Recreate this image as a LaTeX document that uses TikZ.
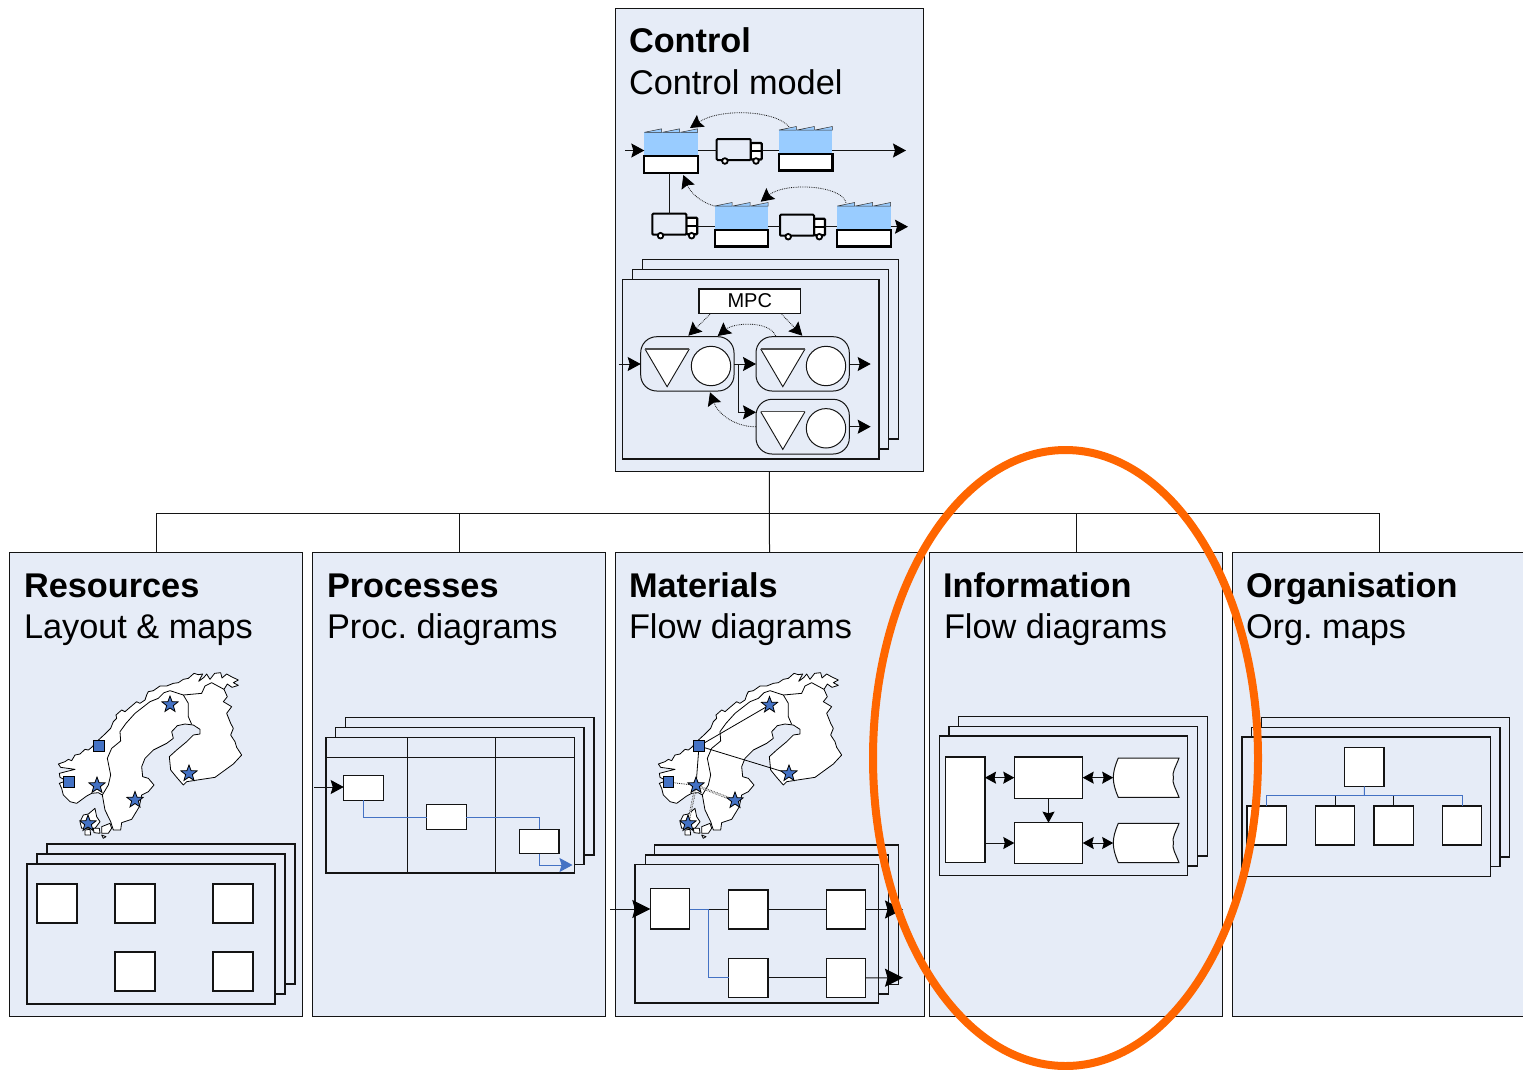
\documentclass[tikz,border=0pt]{standalone}
\usepackage{fontspec}
\setmainfont{Liberation Sans}
\usetikzlibrary{arrows.meta,shapes.geometric,calc}
\definecolor{panelfill}{RGB}{230,236,247}
\definecolor{roofblue}{RGB}{153,204,255}
\definecolor{markblue}{RGB}{68,114,196}
\definecolor{flowblue}{RGB}{68,114,196}
\definecolor{ringorange}{RGB}{255,102,0}
\definecolor{inkdark}{RGB}{20,20,20}
\tikzset{
  panelbox/.style={draw=inkdark,line width=1pt,fill=panelfill,inner sep=0pt,outer sep=0pt},
  sheetbox/.style={draw=inkdark,line width=1.1pt,fill=panelfill,inner sep=0pt,outer sep=0pt},
  whitebox/.style={draw=inkdark,line width=1.1pt,fill=white,inner sep=0pt,outer sep=0pt},
  bluecell/.style={fill=roofblue,draw=none,inner sep=0pt,outer sep=0pt},
  basecell/.style={draw=black,line width=2.2pt,fill=white,inner sep=0pt,outer sep=0pt},
  ghost/.style={draw=none,inner sep=0pt,outer sep=0pt},
  vanbody/.style={draw=black,line width=2pt,fill=panelfill,rounded corners=1pt,inner sep=0pt,outer sep=0pt},
  vancab/.style={draw=black,line width=2.2pt,fill=white,rounded corners=1pt,inner sep=0pt,outer sep=0pt},
  wheel/.style={circle,draw=black,line width=1.8pt,fill=white,minimum size=5.6pt,inner sep=0pt,outer sep=0pt},
  tank/.style={draw=inkdark,line width=1pt,fill=panelfill,rounded corners=16pt,inner sep=0pt,outer sep=0pt},
  roundwhite/.style={circle,draw=inkdark,line width=1pt,fill=white,minimum size=39.4pt,inner sep=0pt,outer sep=0pt},
  headline/.style={anchor=base west,inner sep=0pt,outer sep=0pt,font=\fontsize{34.3}{41}\selectfont\bfseries},
  subline/.style={anchor=base west,inner sep=0pt,outer sep=0pt,font=\fontsize{34.3}{41}\selectfont},
  conn/.style={draw=inkdark,line width=1pt},
  bluelink/.style={draw=flowblue,line width=1pt},
  tipA/.style={-{Stealth[length=13pt,width=14pt,inset=2pt,black]}},
  tipB/.style={-{Stealth[length=18pt,width=18pt,inset=2.5pt,black]}},
  tipC/.style={{Stealth[length=11pt,width=12pt,inset=1.5pt,black]}-{Stealth[length=11pt,width=12pt,inset=1.5pt,black]}},
  tipD/.style={-{Stealth[length=11pt,width=12pt,inset=1.5pt,black]}},
  fineDots/.style={draw=inkdark,line width=.8pt,densely dotted},
  twinDots/.style={draw=inkdark,line width=.6pt,densely dotted,double=white,double distance=1.2pt},
  starmark/.style={star,star points=5,star point ratio=2.4,minimum size=17pt,draw=black,line width=.8pt,fill=markblue,inner sep=0pt,outer sep=0pt},
  squaremark/.style={draw=black,line width=.8pt,fill=markblue,minimum size=10.5pt,inner sep=0pt,outer sep=0pt},
  landmass/.style={draw=black,line width=.8pt,fill=white,line join=round},
  frontier/.style={draw=black,line width=.8pt,line join=round},
}
\newcommand{\rbox}[6]{%
  \pgfmathsetmacro\boxW{(#5)-(#3)}\pgfmathsetmacro\boxH{(#6)-(#4)}%
  \pgfmathsetmacro\boxX{((#3)+(#5))/2}\pgfmathsetmacro\boxY{((#4)+(#6))/2}%
  \node[#1,minimum width=\boxW pt,minimum height=\boxH pt] (#2) at (\boxX,\boxY) {};}
\newcommand{\factoryicon}[3]{% name, left, top
  \pgfmathsetmacro\fL{#2}\pgfmathsetmacro\fT{#3}%
  \rbox{ghost}{#1}{#2}{#3}{#2+53.4}{#3+40.4}
  \rbox{bluecell}{#1-top}{#2}{#3}{#2+53.4}{#3+24}
  \foreach \t in {0,18,36}{%
    \draw[draw=black!80,line width=.5pt,fill=roofblue] ({\fL+\t},\fT) -- ({\fL+\t+17.4},{\fT-3.5}) -- ({\fL+\t+17.4},\fT) -- cycle;}
  \rbox{basecell}{#1-base}{#2}{#3+24}{#2+53.4}{#3+40.4}}
\newcommand{\vanicon}[3]{% name, left, top
  \rbox{vancab}{#1-cab}{#2+34}{#3+4}{#2+45}{#3+20.5}
  \draw[draw=black,line width=2pt] ({#2+34},{#3+12}) -- ({#2+45},{#3+12});
  \rbox{vanbody}{#1}{#2}{#3}{#2+34}{#3+21}
  \node[wheel] (#1-w1) at ({#2+8.2},{#3+22}) {};
  \node[wheel] (#1-w2) at ({#2+39.3},{#3+22}) {};}
\newcommand{\tritank}[4]{% name, left, top, ignored
  \node[ghost] (#1) at ({#2+22.2},{#3+18.8}) {};
  \fill[white] ({#2},{#3}) -- ({#2+44.3},{#3}) -- ({#2+22.1},{#3+37.7}) -- cycle;
  \draw[draw=inkdark,line width=.9pt] ({#2},{#3}) -- ({#2+22.1},{#3+37.7}) -- ({#2+44.3},{#3});
  \draw[draw=inkdark!75,line width=#4] ({#2},{#3}) -- ({#2+44.3},{#3});}
\newcommand{\drumshape}[3]{% name, top, bottom
  \pgfmathsetmacro\dM{(#2+#3)/2}%
  \node[ghost,minimum width=66pt,minimum height=39pt] (#1) at (1146.2,\dM) {};
  \draw[draw=inkdark,line width=1pt,fill=white] (1118.3,#2) -- (1179,#2)
    .. controls (1175.5,{\dM-10}) and (1172,{\dM-6}) .. (1173.3,\dM)
    .. controls (1172,{\dM+6}) and (1175.5,{\dM+10}) .. (1179,#3)
    -- (1118.3,#3)
    .. controls (1115,{\dM+12}) and (1113.3,{\dM+6}) .. (1113.3,\dM)
    .. controls (1113.3,{\dM-6}) and (1115,{\dM-12}) .. (1118.3,#2) -- cycle;}
\newcommand{\nordicland}[1]{%
  \begin{scope}[shift={(#1pt,-660pt)},x=.33333pt,y=-.33333pt]
    \path[landmass] (522,40)--(535,44)--(548,42)--(536,64)--(552,52)--(560,42)--(570,58)--(584,40)--(602,38)--(606,54)--(620,42)--(634,50)--(655,60)--(640,68)--(655,76)--(636,82)--(622,72)--(612,88)--(622,110)--(610,125)--(635,140)--(620,160)--(632,190)--(640,205)--(632,225)--(645,245)--(650,262)--(665,285)--(640,312)--(585,352)--(545,358)--(500,365)--(490,375)--(470,352)--(452,330)--(448,290)--(470,270)--(500,245)--(520,225)--(540,222)--(540,208)--(520,195)--(495,192)--(472,197)--(455,215)--(460,235)--(440,250)--(400,270)--(375,295)--(365,320)--(368,350)--(385,355)--(402,375)--(385,395)--(365,405)--(358,440)--(335,478)--(305,488)--(302,510)--(280,510)--(272,485)--(255,450)--(247,405)--(235,398)--(215,400)--(200,408)--(170,430)--(150,425)--(130,405)--(125,385)--(118,370)--(140,362)--(120,352)--(118,340)--(165,328)--(122,322)--(115,312)--(135,305)--(145,298)--(155,302)--(165,285)--(180,282)--(195,268)--(205,270)--(215,262)--(230,245)--(255,222)--(262,215)--(272,205)--(280,185)--(290,175)--(288,165)--(305,150)--(315,155)--(330,142)--(350,125)--(360,130)--(375,120)--(380,105)--(385,95)--(400,92)--(410,85)--(420,78)--(440,78)--(460,70)--(475,68)--(490,58)--(505,55)--cycle;
    \path[frontier] (247,405)--(265,375)--(272,345)--(262,295)--(275,265)--(302,243)--(300,215)--(318,190)--(345,160)--(390,125)--(415,115)--(432,98)--(450,92)--(490,105)--(505,130)--(505,170)--(515,193);
    \path[frontier] (490,105)--(545,100)--(555,78)--(575,68)--(612,88);
    \path[landmass] (180,485)--(190,465)--(205,462)--(225,445)--(230,470)--(240,485)--(225,505)--(200,505)--(185,505)--cycle;
    \path[landmass] (195,510)--(210,508)--(212,525)--(195,525)--cycle;
    \path[landmass] (220,505)--(238,505)--(240,520)--(222,518)--cycle;
    \path[landmass] (245,500)--(270,490)--(275,505)--(265,520)--(245,520)--cycle;
    \path[landmass] (245,525)--(258,530)--(250,535)--cycle;
  \end{scope}}
\frenchspacing
\begin{document}
\begin{tikzpicture}[x=1pt,y=-1pt]
\useasboundingbox (0,0) rectangle (1523,1069);
\clip (0,0) rectangle (1523,1069);
\fill[white] (0,0) rectangle (1523,1069);

% ---------- panels
\rbox{panelbox}{control}{615.8}{8.2}{923}{471}
\rbox{panelbox}{resources}{9.8}{552.4}{302.7}{1016}
\rbox{panelbox}{processes}{312.7}{552.4}{605.7}{1016}
\rbox{panelbox}{materials}{615}{552.4}{924}{1016}
\rbox{panelbox}{information}{929.8}{552.4}{1222.5}{1016}
\rbox{panelbox}{organisation}{1232}{552.4}{1526}{1016}

\coordinate (bus) at (769.5,513.5);
\draw[conn] (control.south) -- (materials.north);
\draw[conn] (resources.north) |- (bus);
\draw[conn] (processes.north) |- (bus);
\draw[conn] (information.north) |- (bus);
\draw[conn] (organisation.north) |- (bus);

% ---------- titles
\node[headline] (t1) at (629,52.5) {Control};
\node[subline] (s1) at (629,94) {Control model};
\node[headline] (t2) at (24,597) {Resources};
\node[subline] (s2) at (24,638) {Layout \& maps};
\node[headline] (t3) at (327,597) {Processes};
\node[subline] (s3) at (327,638) {Proc. diagrams};
\node[headline] (t4) at (629,597) {Materials};
\node[subline] (s4) at (629,638) {Flow diagrams};
\node[headline] (t5) at (943,597) {Information};
\node[subline] (s5) at (944,638) {Flow diagrams};
\node[headline] (t6) at (1246,597) {Organisation};
\node[subline] (s6) at (1246,638) {Org. maps};

% ---------- control: supply chain
\factoryicon{fA}{644.3}{132.3}
\factoryicon{fB}{779}{130}
\factoryicon{fC}{714.7}{206}
\factoryicon{fD}{837.3}{206}
\vanicon{vA}{716.7}{139}
\vanicon{vB}{652.3}{213.7}
\vanicon{vC}{780}{214.7}
\coordinate (rowA) at (0,150.5);
\coordinate (rowB) at (0,226.7);
\coordinate (inA) at (625,150.5);
\coordinate (outA) at (906,150.5);
\coordinate (outB) at (908,226.7);
\draw[conn,tipA] (inA) -- (fA.west |- rowA);
\draw[conn] (fA.east |- rowA) -- (vA.west |- rowA);
\draw[conn] (vA-cab.east |- rowA) -- (fB.west |- rowA);
\draw[conn,tipA] (fB.east |- rowA) -- (outA);
\draw[conn] (vB.north |- fA.south) -- (vB.north);
\draw[conn] (vB-cab.east |- rowB) -- (fC.west |- rowB);
\draw[conn] (fC.east |- rowB) -- (vC.west |- rowB);
\draw[conn] (vC-cab.east |- rowB) -- (fD.west |- rowB);
\draw[conn,tipA] (fD.east |- rowB) -- (outB);
\coordinate (fbA1) at (789,126.7);
\coordinate (fbA2) at (690,128);
\coordinate (fbB1) at (714.3,206);
\coordinate (fbB2) at (683.3,175);
\coordinate (fbC1) at (846,202.7);
\coordinate (fbC2) at (760.7,201.7);
\draw[fineDots,tipA] (fbA1) .. controls (775,110) and (720,108) .. (fbA2);
\draw[fineDots,tipA] (fbB1) .. controls (700,202) and (690,192) .. (fbB2);
\draw[fineDots,tipA] (fbC1) .. controls (842,185) and (785,182) .. (fbC2);

% ---------- control: MPC sheets
\rbox{sheetbox}{cS3}{642.7}{259.7}{898.3}{439}
\rbox{sheetbox}{cS2}{632.7}{269.7}{888.3}{449}
\rbox{sheetbox}{cS1}{622.7}{279.3}{879}{459}
\rbox{whitebox}{mpc}{699}{289}{800.7}{313.3}
\node[inner sep=0pt,font=\fontsize{20}{24}\selectfont] (mpct) at (749.8,300.5) {MPC};
\rbox{tank}{tankA}{640.7}{336.7}{734}{391}
\rbox{tank}{tankB}{756}{336.7}{849.3}{391}
\rbox{tank}{tankC}{756}{399.3}{849.3}{454}
\tritank{triA}{645}{349}{1.6pt}
\tritank{triB}{760.7}{349}{1.6pt}
\tritank{triC}{760.7}{411.7}{.9pt}
\node[roundwhite] (cirA) at (711,366) {};
\node[roundwhite] (cirB) at (826,366) {};
\node[roundwhite] (cirC) at (826,428.3) {};
\coordinate (inM) at (618.5,364);
\coordinate (outMB) at (870.7,364);
\coordinate (outMC) at (870.7,426.7);
\coordinate (branch) at (738.3,364);
\coordinate (rowC) at (0,412.3);
\draw[conn,tipA] (inM) -- (tankA.west |- inM);
\draw[conn,tipA] (tankA.east |- inM) -- (tankB.west |- inM);
\draw[conn,tipA] (branch) |- (tankC.west |- rowC);
\draw[conn,tipA] (tankB.east |- outMB) -- (outMB);
\draw[conn,tipA] (tankC.east |- outMC) -- (outMC);
\coordinate (mA) at (710,314.3);
\coordinate (mA2) at (688.3,335.7);
\coordinate (mB) at (781.7,314.3);
\coordinate (mB2) at (802.3,335.7);
\coordinate (bA) at (775.7,336);
\coordinate (bA2) at (717.7,336);
\coordinate (cA) at (756,426.7);
\coordinate (cA2) at (710,392.3);
\draw[fineDots,tipA] (mA) -- (mA2);
\draw[fineDots,tipA] (mB) -- (mB2);
\draw[fineDots,tipA] (bA) .. controls (770,321) and (735,322) .. (bA2);
\draw[fineDots,tipA] (cA) .. controls (735,427) and (718,414) .. (cA2);

% ---------- resources
\nordicland{20}
\node[starmark] (rs1) at (170,704.5) {};
\node[starmark] (rs2) at (189,773.5) {};
\node[starmark] (rs3) at (97,785.5) {};
\node[starmark] (rs4) at (135,800) {};
\node[starmark] (rs5) at (88,823.5) {};
\node[squaremark] (rq1) at (99,746) {};
\node[squaremark] (rq2) at (68.7,782) {};
\rbox{sheetbox}{rS3}{47}{844}{295}{984}
\rbox{sheetbox}{rS2}{37}{854}{285}{994}
\rbox{sheetbox}{rS1}{27}{864}{275}{1004}
\rbox{whitebox}{rb1}{37}{884}{77}{923}
\rbox{whitebox}{rb2}{115}{884}{155}{923}
\rbox{whitebox}{rb3}{213}{884}{253}{923}
\rbox{whitebox}{rb4}{115}{952}{155}{991}
\rbox{whitebox}{rb5}{213}{952}{253}{991}

% ---------- processes
\rbox{sheetbox}{pS3}{345.3}{717.7}{594}{855}
\rbox{sheetbox}{pS2}{335.7}{727.7}{584}{864.7}
\rbox{sheetbox}{pS1}{326}{737.7}{574.3}{873}
\coordinate (laneA) at (407.3,737.7);
\coordinate (laneB) at (495.3,737.7);
\coordinate (laneH) at (326,757);
\draw[conn] (laneA) -- (laneA |- pS1.south);
\draw[conn] (laneB) -- (laneB |- pS1.south);
\draw[conn] (laneH) -- (laneH -| pS1.east);
\rbox{whitebox}{pb1}{343.7}{775.3}{383.3}{800.3}
\rbox{whitebox}{pb2}{426.7}{804.7}{466.3}{829.3}
\rbox{whitebox}{pb3}{519.3}{829.3}{559}{853.7}
\coordinate (inP) at (314,787);
\draw[conn,tipA] (inP) -- (pb1.west |- inP);
\draw[bluelink] (pb1.south) |- (pb2.west);
\draw[bluelink] (pb2.east) -| (pb3.north);
\coordinate (endP) at (572.5,865);
\draw[bluelink,-{Stealth[length=13pt,width=14pt,inset=2pt,flowblue]}] (pb3.south) |- (endP);

% ---------- materials
\nordicland{620}
\coordinate (mqA) at (699,746);
\coordinate (mqB) at (668.3,782);
\coordinate (msA) at (769.5,705);
\coordinate (msB) at (789,773.5);
\coordinate (msC) at (696,785.5);
\coordinate (msD) at (735,800.5);
\coordinate (msE) at (688,823.5);
\draw[frontier] (mqA) -- (msA);
\draw[frontier] (mqA) -- (msB);
\draw[frontier] (mqA) -- (msC);
\draw[fineDots] (mqB) -- (msC);
\draw[twinDots] (msC) -- (msD);
\draw[twinDots] (msC) -- (msE);
\node[squaremark] (mq1) at (mqA) {};
\node[squaremark] (mq2) at (mqB) {};
\node[starmark] (ms1) at (msA) {};
\node[starmark] (ms2) at (msB) {};
\node[starmark] (ms3) at (msC) {};
\node[starmark] (ms4) at (msD) {};
\node[starmark] (ms5) at (msE) {};
\rbox{sheetbox}{mS3}{654.3}{845}{898.7}{984.3}
\rbox{sheetbox}{mS2}{645.3}{855}{888.7}{994}
\rbox{sheetbox}{mS1}{635}{864.7}{878.7}{1003}
\rbox{whitebox}{mb1}{650.3}{888.7}{689.7}{929}
\rbox{whitebox}{mb2}{728.7}{890}{768}{929}
\rbox{whitebox}{mb3}{826.3}{890}{865.7}{929}
\rbox{whitebox}{mb4}{728.7}{958.3}{768}{997.3}
\rbox{whitebox}{mb5}{826.3}{958.3}{865.7}{997.3}
\coordinate (inR) at (610,909);
\coordinate (outR1) at (903,909.5);
\coordinate (outR2) at (903,977.7);
\coordinate (splitR) at (708.5,909.5);
\draw[conn,tipB] (inR) -- (mb1.west |- inR);
\draw[conn] (splitR) -- (mb2.west);
\draw[bluelink] (mb1.east |- splitR) -- (splitR) |- (mb4.west);
\draw[conn] (mb2.east) -- (mb3.west);
\draw[conn] (mb4.east) -- (mb5.west);
\draw[conn,tipB] (mb3.east) -- (outR1);
\draw[conn,tipB] (mb5.east) -- (outR2);

% ---------- information
\rbox{sheetbox}{iS3}{958.7}{716.7}{1207.3}{856}
\rbox{sheetbox}{iS2}{949}{726.3}{1197.3}{866}
\rbox{sheetbox}{iS1}{939.3}{736}{1187.7}{875.7}
\rbox{whitebox}{ib0}{945.7}{757}{985}{862.7}
\rbox{whitebox}{ib1}{1014.3}{757}{1082.7}{798.3}
\rbox{whitebox}{ib2}{1014.3}{822.7}{1082.7}{863.3}
\drumshape{id1}{758}{797.3}
\drumshape{id2}{823.3}{862.7}
\draw[conn,tipC] (ib0.east |- ib1.east) -- (ib1.west);
\draw[conn,tipC] (ib1.east) -- (id1.west);
\draw[conn,tipD] (ib1.south) -- (ib1.south |- ib2.north);
\draw[conn,tipD] (ib0.east |- ib2.west) -- (ib2.west);
\draw[conn,tipC] (ib2.east) -- (id2.west);

% ---------- organisation
\rbox{sheetbox}{oS3}{1261.7}{717.3}{1509.7}{857}
\rbox{sheetbox}{oS2}{1251.7}{727.3}{1500}{866.7}
\rbox{sheetbox}{oS1}{1242}{737}{1490.3}{876.3}
\rbox{whitebox}{ob0}{1344.7}{747.3}{1384}{786.3}
\rbox{whitebox}{ob1}{1247}{806}{1286.3}{845}
\rbox{whitebox}{ob2}{1315.3}{806}{1354.7}{845}
\rbox{whitebox}{ob3}{1374}{806}{1413.3}{845}
\rbox{whitebox}{ob4}{1442.3}{806}{1481.7}{845}
\coordinate (orgbus) at (1364.3,795.7);
\draw[bluelink] (ob0.south) -- (orgbus);
\draw[bluelink] (ob1.north) |- (orgbus);
\draw[bluelink] (ob4.north) |- (orgbus);
\draw[conn] (ob2.north) -- (ob2.north |- orgbus);
\draw[conn] (ob3.north) -- (ob3.north |- orgbus);

% ---------- highlight
\node[ellipse,draw=ringorange,line width=8pt,fill=none,minimum width=385pt,minimum height=616pt,inner sep=0pt,outer sep=0pt] (ring) at (1065.5,758) {};
\end{tikzpicture}
\end{document}
